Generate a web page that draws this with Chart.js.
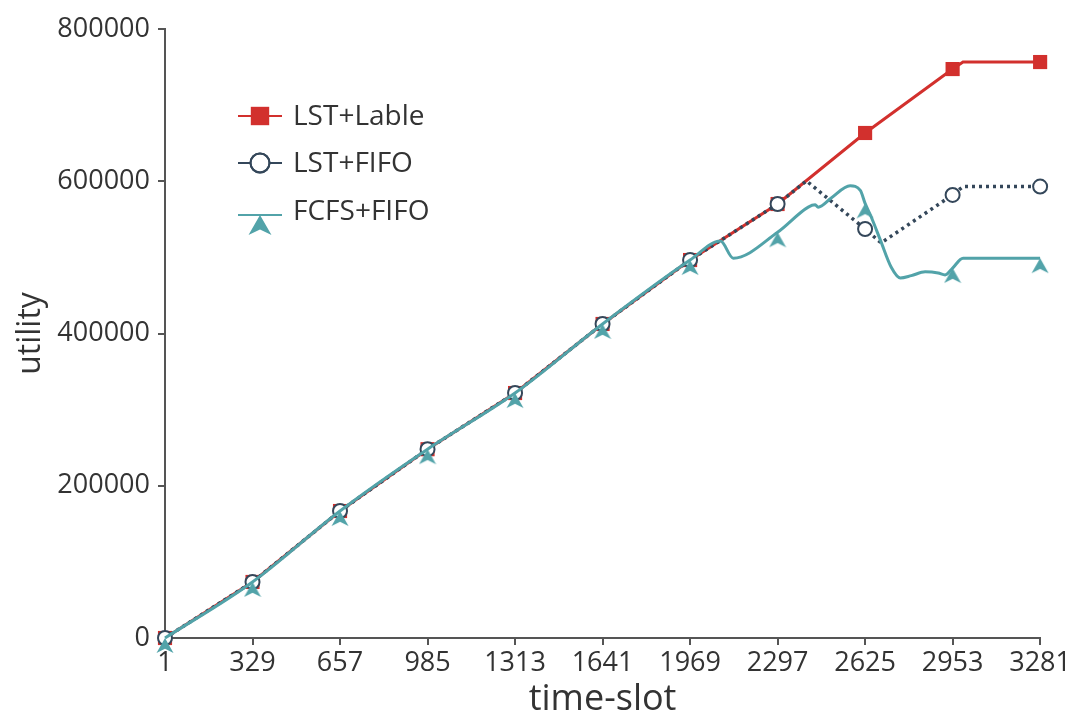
<!DOCTYPE html>
<html lang="en">

<head>
    <meta charset="UTF-8" />
    <script src="https://cdn.jsdelivr.net/npm/chart.js@4.4.0/dist/chart.umd.min.js"></script>
    <style>
        body { margin: 0; background: #fff; }
    </style>
</head>

<body>
    <canvas id="chart" width="1073" height="721"></canvas>
    <script>
        const xTicks = [1, 329, 657, 985, 1313, 1641, 1969, 2297, 2625, 2953, 3281];
        const yTicks = [0, 200000, 400000, 600000, 800000];

        const lableX = [1, 329, 657, 985, 1313, 1641, 1969, 2297, 2625, 2953, 2992, 3281];
        const lableY = [0, 73600, 166800, 248000, 321800, 412500, 496500, 570100, 663400, 747400, 756600, 756600];

        const fifoX = [1, 329, 657, 985, 1313, 1641, 1969, 2297, 2405, 2625, 2685, 2953, 2992, 3281];
        const fifoY = [0, 73600, 166800, 248000, 321800, 412500, 496500, 570100, 600500, 537300, 519000, 582000, 593000, 593000];

        const fcfsX = [1, 329, 657, 985, 1313, 1641, 1969, 2083, 2131, 2297, 2412, 2438, 2449, 2498, 2569, 2607, 2625, 2648, 2682, 2723, 2757, 2798, 2850, 2899, 2925, 2953, 2992, 3281];
        const fcfsY = [0, 73600, 166800, 248000, 321800, 412500, 496500, 521500, 499000, 533000, 566000, 569000, 566000, 578000, 594000, 588000, 571000, 553000, 523000, 487000, 473000, 476000, 481000, 479500, 477000, 486000, 499000, 499000];

        const RED = '#d2302d';
        const SLATE = '#34475a';
        const TEAL = '#52a3a9';
        const TEXT = '#333333';

        // arrow-like triangle, tip sits on the point
        function makeArrow(w, h) {
            const c = document.createElement('canvas');
            c.width = w;
            c.height = h * 2 + 2;
            const g = c.getContext('2d');
            const cx = w / 2, top = h + 1;
            g.fillStyle = TEAL;
            g.beginPath();
            g.moveTo(cx, top);
            g.lineTo(w - 0.5, top + h);
            g.lineTo(cx, top + h * 0.72);
            g.lineTo(0.5, top + h);
            g.closePath();
            g.fill();
            return c;
        }
        const arrowSmall = makeArrow(18, 15);
        const arrowBig = makeArrow(24, 20);

        const pts = (xs, ys) => xs.map((x, i) => ({ x: x, y: ys[i] }));
        const onTick = (r) => (c) => (c.raw && xTicks.includes(c.raw.x) ? r : 0);

        const datasets = [
            {
                label: 'LST+Lable',
                data: pts(lableX, lableY),
                borderColor: RED,
                backgroundColor: RED,
                borderWidth: 3,
                tension: 0,
                pointStyle: 'rect',
                pointRadius: onTick(10),
                pointBorderWidth: 0,
                pointBackgroundColor: RED,
                legendRadius: 13,
                order: 3
            },
            {
                label: 'LST+FIFO',
                data: pts(fifoX, fifoY),
                borderColor: SLATE,
                backgroundColor: '#fff',
                borderWidth: 3.5,
                borderDash: [3, 4],
                tension: 0,
                pointStyle: 'circle',
                pointRadius: onTick(7),
                pointBorderWidth: 2,
                pointBorderColor: SLATE,
                pointBackgroundColor: '#fff',
                legendRadius: 9.5,
                order: 2
            },
            {
                label: 'FCFS+FIFO',
                data: pts(fcfsX, fcfsY),
                borderColor: TEAL,
                backgroundColor: TEAL,
                borderWidth: 3,
                cubicInterpolationMode: 'monotone',
                pointStyle: arrowSmall,
                pointRadius: onTick(8),
                legendStyle: arrowBig,
                legendRadius: 10,
                order: 1
            }
        ];

        const insideLegend = {
            id: 'insideLegend',
            afterDraw(chart) {
                const ctx = chart.ctx;
                const area = chart.chartArea;
                const x0 = area.left + 73;
                const rows = [116, 163, 211];
                ctx.save();
                ctx.font = '28px "Open Sans"';
                ctx.textBaseline = 'middle';
                chart.data.datasets.forEach((ds, i) => {
                    const y = rows[i];
                    const ly = i === 2 ? y + 4 : y;
                    ctx.strokeStyle = ds.borderColor;
                    ctx.lineWidth = 2;
                    ctx.setLineDash([]);
                    ctx.beginPath();
                    ctx.moveTo(x0, ly);
                    ctx.lineTo(x0 + 44, ly);
                    ctx.stroke();
                    ctx.fillStyle = ds.pointBackgroundColor || ds.borderColor;
                    ctx.strokeStyle = ds.pointBorderColor || ds.borderColor;
                    Chart.helpers.drawPoint(ctx, {
                        pointStyle: ds.legendStyle || ds.pointStyle,
                        radius: ds.legendRadius,
                        borderWidth: ds.pointBorderWidth || 0
                    }, x0 + 22, ly);
                    if (ds.pointBorderWidth) {
                        ctx.lineWidth = ds.pointBorderWidth;
                        ctx.stroke();
                    }
                    ctx.fillStyle = TEXT;
                    ctx.fillText(ds.label, x0 + 55, y + 1);
                });
                ctx.restore();
            }
        };

        const ctx = document.getElementById('chart').getContext('2d');
        const myChart = new Chart(ctx, {
            type: 'line',
            data: { datasets: datasets.map(d => Object.assign({ clip: false, fill: false }, d)) },
            options: {
                responsive: false,
                animation: false,
                events: [],
                layout: { padding: { left: 12, right: 31, top: 29, bottom: 0 } },
                plugins: { legend: { display: false }, tooltip: { enabled: false } },
                scales: {
                    x: {
                        type: 'linear',
                        min: 1,
                        max: 3281,
                        afterBuildTicks: (s) => { s.ticks = xTicks.map(v => ({ value: v })); },
                        afterFit: (s) => { s.height = 83; },
                        ticks: {
                            autoSkip: false,
                            maxRotation: 0,
                            padding: 2,
                            color: TEXT,
                            font: { family: 'Open Sans', size: 27 },
                            callback: (v) => String(v)
                        },
                        grid: { drawOnChartArea: false, drawTicks: true, tickLength: 7, color: '#555', lineWidth: 2 },
                        border: { display: true, color: '#555', width: 2 },
                        title: {
                            display: true,
                            text: 'time-slot',
                            color: TEXT,
                            padding: 0,
                            font: { family: 'Open Sans', size: 36, lineHeight: 1.2 }
                        }
                    },
                    y: {
                        min: 0,
                        max: 800000,
                        afterBuildTicks: (s) => { s.ticks = yTicks.map(v => ({ value: v })); },
                        afterFit: (s) => { s.width = 153; },
                        ticks: {
                            padding: 8,
                            color: TEXT,
                            font: { family: 'Open Sans', size: 27 },
                            callback: (v) => String(v)
                        },
                        grid: { drawOnChartArea: false, drawTicks: true, tickLength: 7, color: '#555', lineWidth: 2 },
                        border: { display: true, color: '#555', width: 2 },
                        title: {
                            display: true,
                            text: 'utility',
                            color: TEXT,
                            padding: 0,
                            font: { family: 'Open Sans', size: 32, lineHeight: 1.2 }
                        }
                    }
                }
            },
            plugins: [insideLegend]
        });
    </script>
</body>

</html>
